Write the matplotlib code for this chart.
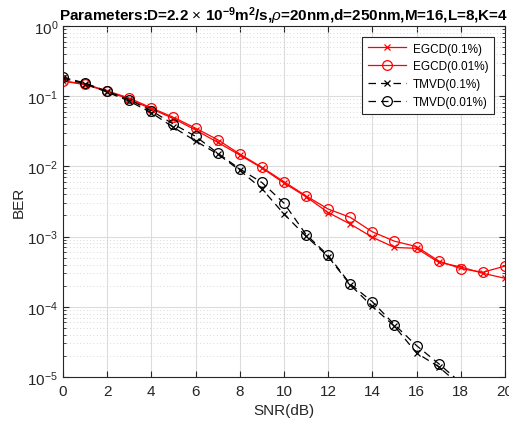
import numpy as np
import matplotlib.pyplot as plt
from matplotlib.ticker import LogLocator, NullFormatter

plt.rcParams['font.family'] = ['Liberation Sans', 'DejaVu Sans']
plt.rcParams['mathtext.fontset'] = 'custom'
plt.rcParams['mathtext.rm'] = 'Liberation Sans'
plt.rcParams['mathtext.it'] = 'Liberation Sans:italic'
plt.rcParams['mathtext.bf'] = 'Liberation Sans:bold'

# SNR values (dB)
snr = np.arange(0, 21)

# BER curves
egcd_01 = [0.165, 0.145, 0.118, 0.090, 0.066, 0.048, 0.033, 0.022, 0.0145, 0.0095,
           0.0058, 0.0037, 0.0022, 0.00151, 0.00098, 0.00070, 0.00068, 0.00043,
           0.00037, 0.00030, 0.000255]
egcd_001 = [0.165, 0.149, 0.119, 0.094, 0.068, 0.050, 0.035, 0.024, 0.015, 0.0097,
            0.00605, 0.0038, 0.00247, 0.00188, 0.00117, 0.00086, 0.00072, 0.00045,
            0.00035, 0.00031, 0.00038]
tmvd_01 = [0.180, 0.150, 0.114, 0.085, 0.058, 0.036, 0.023, 0.015, 0.0088, 0.0048,
           0.0021, 0.00101, 0.00052, 0.000205, 0.000101, 5.3e-5, 2.2e-5, 1.4e-5,
           7.5e-6, 3e-6, 1.2e-6]
tmvd_001 = [0.186, 0.154, 0.117, 0.089, 0.062, 0.040, 0.0268, 0.0155, 0.0092, 0.0059,
            0.0030, 0.00107, 0.00054, 0.000211, 0.000118, 5.56e-5, 2.8e-5, 1.55e-5,
            8.3e-6, 3.5e-6, 1.5e-6]

fig = plt.figure(figsize=(5.1, 4.27), dpi=100)
ax = fig.add_axes([0.1235, 0.1148, 0.8665, 0.822])

ax.semilogy(snr, egcd_01, 'r-x', lw=0.9, ms=5, mew=0.9, label='EGCD(0.1%)')
ax.semilogy(snr, egcd_001, 'r-o', lw=0.9, ms=7, mfc='none', mew=0.9, label='EGCD(0.01%)')
ax.semilogy(snr, tmvd_01, 'k--x', lw=0.9, ms=5, mew=0.9, dashes=(6, 4), label='TMVD(0.1%)')
ax.semilogy(snr, tmvd_001, 'k--o', lw=0.9, ms=7, mfc='none', mew=0.9, dashes=(6, 4), label='TMVD(0.01%)')

ax.set_xlim(0, 20)
ax.set_ylim(1e-5, 1)
ax.set_xticks(np.arange(0, 21, 2))
ax.yaxis.set_major_locator(LogLocator(base=10, numticks=10))
ax.yaxis.set_minor_locator(LogLocator(base=10, subs=np.arange(2, 10), numticks=20))
ax.yaxis.set_minor_formatter(NullFormatter())

ax.grid(True, which='major', color='#dcdcdc', lw=0.8, ls='-')
ax.grid(True, which='minor', axis='y', color='#cccccc', lw=0.6, ls=(0, (1, 3)))
ax.set_axisbelow(True)
ax.tick_params(which='both', direction='in', top=True, right=True, labelsize=11, colors='#262626')
ax.tick_params(which='major', length=4)
ax.tick_params(axis='x', pad=5)
ax.tick_params(which='minor', length=2)
for s in ax.spines.values():
    s.set_color('#262626')
    s.set_linewidth(0.8)

ax.set_xlabel('SNR(dB)', fontsize=11, color='#262626', labelpad=4)
ax.set_ylabel('BER', fontsize=11, color='#262626', labelpad=1)
ax.set_title(r'Parameters:D=2.2 $\times$ 10$^{\mathbf{-9}}$m$^{\mathbf{2}}$/s,$\rho$=20nm,d=250nm,M=16,L=8,K=4',
             fontsize=11, fontweight='bold', pad=3)

leg = ax.legend(loc='upper right', fontsize=8.5, fancybox=False, edgecolor='#262626',
                framealpha=1, borderaxespad=0.9, handlelength=3.2, handletextpad=0.6,
                labelspacing=0.5, borderpad=0.5)
leg.get_frame().set_linewidth(0.8)

plt.savefig('out.png', dpi=100)
